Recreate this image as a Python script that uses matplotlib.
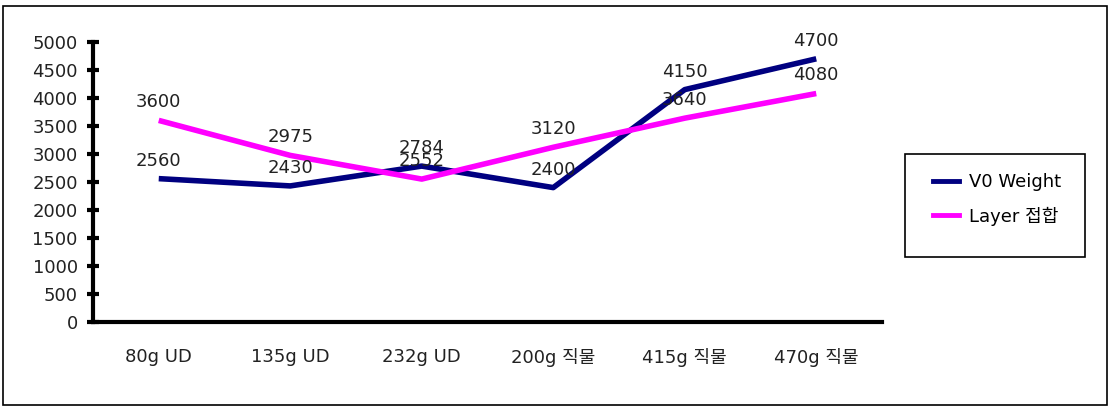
import matplotlib
matplotlib.use("Agg")
import matplotlib.pyplot as plt
from matplotlib.patches import Rectangle
from matplotlib.lines import Line2D

plt.rcParams['font.family'] = ['DejaVu Sans', 'Noto Sans CJK KR']

categories = ["80g UD", "135g UD", "232g UD", "200g 직물", "415g 직물", "470g 직물"]
v0_weight = [2560, 2430, 2784, 2400, 4150, 4700]
layer = [3600, 2975, 2552, 3120, 3640, 4080]
yticks = [0, 500, 1000, 1500, 2000, 2500, 3000, 3500, 4000, 4500, 5000]

W, H = 1115, 411
fig = plt.figure(figsize=(W / 100, H / 100), dpi=100)
fig.patches.append(Rectangle((3 / W, 6 / H), 1104 / W, 399 / H, transform=fig.transFigure,
                             fill=False, edgecolor='black', linewidth=1.2))
# legend box
fig.patches.append(Rectangle((905 / W, 1 - 257 / H), 180 / W, 103 / H, transform=fig.transFigure,
                             fill=False, edgecolor='black', linewidth=1.2))

ax = fig.add_axes([93 / W, 1 - 322 / H, 789 / W, 280 / H])
x = list(range(len(categories)))
ax.plot(x, v0_weight, color='#000080', linewidth=4, label='V0 Weight', solid_capstyle='butt')
ax.plot(x, layer, color='#FF00FF', linewidth=4, label='Layer 접합', solid_capstyle='butt')

for xi, v in zip(x, v0_weight):
    ax.annotate(str(v), (xi, v), xytext=(0, 6.5), textcoords='offset points',
                ha='center', va='bottom', fontsize=13, color='#222222')
for xi, v in zip(x, layer):
    ax.annotate(str(v), (xi, v), xytext=(0, 6.5), textcoords='offset points',
                ha='center', va='bottom', fontsize=13, color='#222222')

ax.set_xlim(-0.5, 5.5)
ax.set_ylim(0, 5000)
ax.set_yticks(yticks)
ax.set_yticklabels([str(t) for t in yticks], fontsize=13, color='#222222')
ax.set_xticks(x)
ax.set_xticklabels(categories, fontsize=13, color='#222222')
ax.tick_params(axis='y', direction='inout', length=8, width=3, pad=7)
ax.tick_params(axis='x', length=0, pad=19)
for s in ['top', 'right']:
    ax.spines[s].set_visible(False)
for s in ['left', 'bottom']:
    ax.spines[s].set_linewidth(3)

handles, labels = ax.get_legend_handles_labels()
lh = [Line2D([0], [0], color=h.get_color(), linewidth=3.5) for h in handles]
leg = fig.legend(lh, labels, loc='upper left', bbox_to_anchor=(924 / W, 1 - 164 / H), frameon=False,
                 handlelength=1.45, borderpad=0.0, labelspacing=0.85, handletextpad=0.55,
                 prop={'family': ['DejaVu Sans', 'Noto Sans CJK KR'], 'size': 13})

fig.savefig('out.png', dpi=100)
